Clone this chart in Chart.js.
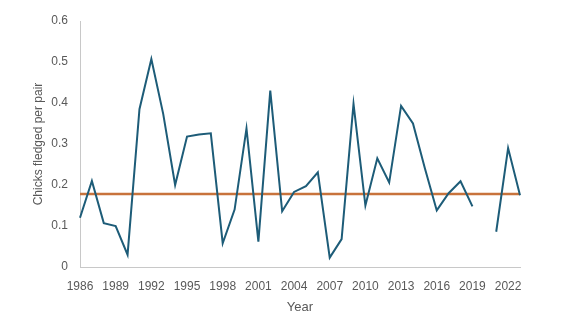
<!DOCTYPE html>
<html>
<head>
<meta charset="utf-8">
<script src="https://cdn.jsdelivr.net/npm/chart.js@4"></script>
<style>
  html, body { margin: 0; padding: 0; background: #ffffff; }
  #wrap { width: 561px; height: 328px; }
</style>
</head>
<body>
<div id="wrap"><canvas id="c" width="561" height="328"></canvas></div>
<script>
const years = [1986,1987,1988,1989,1990,1991,1992,1993,1994,1995,1996,1997,1998,1999,2000,2001,2002,2003,2004,2005,2006,2007,2008,2009,2010,2011,2012,2013,2014,2015,2016,2017,2018,2019,2020,2021,2022,2023];
const chicksPerPair = [0.12,0.21,0.107,0.10,0.03,0.385,0.507,0.373,0.20,0.318,0.323,0.326,0.058,0.14,0.338,0.062,0.43,0.136,0.183,0.197,0.231,0.023,0.068,0.398,0.15,0.265,0.206,0.393,0.35,0.241,0.138,0.18,0.209,0.148,null,0.086,0.29,0.175];
const meanLine = [0.178,0.178,0.178,0.178,0.178,0.178,0.178,0.178,0.178,0.178,0.178,0.178,0.178,0.178,0.178,0.178,0.178,0.178,0.178,0.178,0.178,0.178,0.178,0.178,0.178,0.178,0.178,0.178,0.178,0.178,0.178,0.178,0.178,0.178,0.178,0.178,0.178,0.178];
const xTickLabels = ['1986','1989','1992','1995','1998','2001','2004','2007','2010','2013','2016','2019','2022'];
const yTickLabels = ['0','0.1','0.2','0.3','0.4','0.5','0.6'];

const grey = '#595959';
const axisGrey = '#c8c8c8';
const fontFam = '"Liberation Sans", Arial, sans-serif';

new Chart(document.getElementById('c'), {
  type: 'line',
  data: {
    labels: years.map(String),
    datasets: [
      {
        label: 'Mean',
        data: meanLine,
        borderColor: '#C8733C',
        borderWidth: 2.5,
        pointRadius: 0,
        tension: 0,
        order: 2
      },
      {
        label: 'Chicks fledged per pair',
        data: chicksPerPair,
        borderColor: '#1D5C78',
        borderWidth: 2,
        pointRadius: 0,
        tension: 0,
        spanGaps: false,
        order: 1
      }
    ]
  },
  options: {
    responsive: false,
    animation: false,
    devicePixelRatio: 1,
    layout: { padding: { left: 0, right: 41, top: 21, bottom: 0 } },
    plugins: { legend: { display: false }, tooltip: { enabled: false } },
    scales: {
      x: {
        type: 'category',
        offset: false,
        grid: { display: false, drawTicks: false },
        border: { display: true, color: axisGrey, width: 1 },
        ticks: {
          autoSkip: false,
          maxRotation: 0,
          minRotation: 0,
          padding: 12,
          color: grey,
          font: { family: fontFam, size: 12 },
          callback: function(value, index) {
            const lab = String(years[index]);
            return xTickLabels.includes(lab) ? lab : '';
          }
        },
        title: {
          display: true,
          text: 'Year',
          color: grey,
          font: { family: fontFam, size: 13 },
          padding: { top: 0, bottom: 13 }
        },
        afterFit: function(scale) { scale.height = 61; }
      },
      y: {
        min: 0,
        max: 0.6,
        grid: { display: false, drawTicks: false },
        border: { display: true, color: axisGrey, width: 1 },
        ticks: {
          stepSize: 0.1,
          padding: 12,
          color: grey,
          font: { family: fontFam, size: 12 },
          callback: function(value, index) { return yTickLabels[index]; }
        },
        title: {
          display: true,
          text: 'Chicks fledged per pair',
          color: grey,
          font: { family: fontFam, size: 12 },
          padding: { top: 31, bottom: 0 }
        },
        afterFit: function(scale) { scale.width = 80; }
      }
    }
  }
});
</script>
</body>
</html>
